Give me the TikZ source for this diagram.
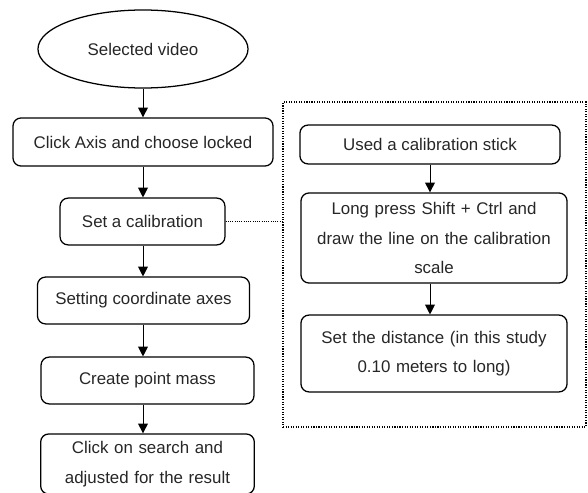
\documentclass[tikz,border=0pt]{standalone}
\usepackage{fontspec}
\setmainfont{Liberation Sans}
\usetikzlibrary{shapes.geometric,arrows.meta}
\begin{document}
\begin{tikzpicture}[x=0.025cm, y=-0.025cm,
	every node/.style={font=\fontsize{12}{21}\selectfont, text=black!85},
	proc/.style={draw, line width=0.9pt, rounded corners=0.2cm, align=center, inner sep=2pt},
	start/.style={draw, ellipse, line width=0.9pt, inner sep=0pt},
	flow/.style={-{Triangle[width=7pt,length=7pt]}, line width=0.7pt}]
	\useasboundingbox (0,0) rectangle (588,493);
	\node[start, minimum width=5.25cm, minimum height=1.95cm] (V) at (143,49) {Selected video};
	\node[proc, minimum width=6.5cm, minimum height=1.2cm] (A) at (143,142) {Click Axis and choose locked};
	\node[proc, minimum width=4.12cm, minimum height=1.17cm] (C) at (142.5,221.5) {Set a calibration};
	\node[proc, minimum width=5.3cm, minimum height=1.17cm] (X) at (143.5,300.5) {Setting coordinate axes};
	\node[proc, minimum width=5.32cm, minimum height=1.17cm] (M) at (147.5,380.5) {Create point mass};
	\node[proc, minimum width=5.32cm, minimum height=1.5cm, text width=5.2cm] (R) at (147.5,464) {Click on search and\\adjusted for the result};
	\node[draw, densely dotted, line width=0.8pt, minimum width=7.57cm, minimum height=8.12cm] (F) at (434.5,264.5) {};
	\node[proc, minimum width=6.5cm, minimum height=0.97cm] (S1) at (430,144.5) {Used a calibration stick};
	\node[proc, minimum width=6.65cm, minimum height=2.25cm, text width=6.4cm] (S2) at (434,238) {Long press Shift + Ctrl and\\draw the line on the calibration\\scale};
	\node[proc, minimum width=6.65cm, minimum height=1.92cm, text width=6.4cm] (S3) at (434,353.5) {Set the distance (in this study\\0.10 meters to long)};
	\draw[flow] (V) -- (A);
	\draw[flow] (A) -- (A |- C.north);
	\draw[flow] (A |- C.south) -- (A |- X.north);
	\draw[flow] (A |- X.south) -- (A |- M.north);
	\draw[flow] (A |- M.south) -- (A |- R.north);
	\draw[flow] (S1) -- (S1 |- S2.north);
	\draw[flow] (S1 |- S2.south) -- (S1 |- S3.north);
	\draw[densely dotted, line width=0.6pt] (C.east) -- (C.east -| F.west);
\end{tikzpicture}
\end{document}
